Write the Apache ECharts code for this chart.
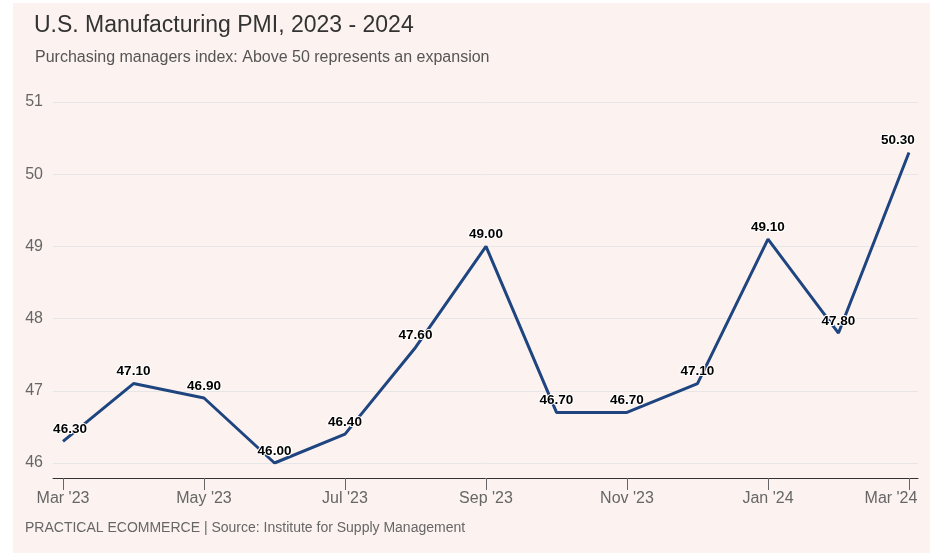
<!DOCTYPE html>
<html>
<head>
<meta charset="utf-8">
<script src="https://cdn.jsdelivr.net/npm/echarts@6/dist/echarts.min.js"></script>
<style>
html,body{margin:0;padding:0;background:#ffffff;}
#chart{width:941px;height:558px;}
</style>
</head>
<body>
<div id="chart"></div>
<script>
const categories = ["Mar '23","Apr '23","May '23","Jun '23","Jul '23","Aug '23","Sep '23","Oct '23","Nov '23","Dec '23","Jan '24","Feb '24","Mar '24"];
const pmiValues = [46.3, 47.1, 46.9, 46.0, 46.4, 47.6, 49.0, 46.7, 46.7, 47.1, 49.1, 47.8, 50.3];
const tickIndices = [0, 2, 4, 6, 8, 10, 12];

const chart = echarts.init(document.getElementById('chart'), null, {renderer: 'canvas'});
const lastIdx = pmiValues.length - 1;
const seriesData = pmiValues.map((v, i) => [i, v]);

chart.setOption({
  backgroundColor: '#ffffff',
  animation: false,
  graphic: [{
    type: 'rect', z: -10, silent: true,
    shape: {x: 13, y: 3, width: 917, height: 550},
    style: {fill: '#fcf3f0'}
  }],
  title: [
    {text: 'U.S. Manufacturing PMI, 2023 - 2024', left: 29, top: 9,
     textStyle: {fontFamily: 'Liberation Sans, Arial', fontSize: 23, fontWeight: 'normal', color: '#333333'}},
    {text: 'Purchasing managers index: Above 50 represents an expansion', left: 30, top: 45,
     textStyle: {fontFamily: 'Liberation Sans, Arial', fontSize: 16, fontWeight: 'normal', color: '#555555'}},
    {text: 'PRACTICAL ECOMMERCE | Source: Institute for Supply Management', left: 20, top: 516,
     textStyle: {fontFamily: 'Liberation Sans, Arial', fontSize: 14, fontWeight: 'normal', color: '#666666'}}
  ],
  grid: {left: 53, right: 23, top: 102, bottom: 95, containLabel: false},
  xAxis: {
    type: 'value',
    min: -0.142, max: 12.128,
    offset: 15,
    splitLine: {show: false},
    axisLine: {show: true, lineStyle: {color: '#333333', width: 1}},
    axisTick: {show: true, customValues: tickIndices, length: 12, lineStyle: {color: '#666666'}},
    axisLabel: {
      customValues: tickIndices,
      formatter: v => {
        const idx = Math.round(v);
        return idx === lastIdx ? '{last|' + categories[idx] + '}' : categories[idx];
      },
      rich: {last: {fontFamily: 'Liberation Sans, Arial', fontSize: 16, color: '#666666', padding: [0, 36, 0, 0]}},
      fontFamily: 'Liberation Sans, Arial', fontSize: 16, color: '#666666', margin: 13
    }
  },
  yAxis: {
    type: 'value',
    min: 46, max: 51, interval: 1,
    axisLine: {show: false},
    axisTick: {show: false},
    splitLine: {show: true, lineStyle: {color: '#e6e6e6', width: 1}},
    axisLabel: {fontFamily: 'Liberation Sans, Arial', fontSize: 16, color: '#666666', margin: 10,
      formatter: v => String(v)}
  },
  series: [{
    type: 'line',
    data: seriesData,
    showSymbol: true,
    symbol: 'circle',
    symbolSize: 0,
    itemStyle: {color: '#1f4580'},
    lineStyle: {color: '#1f4580', width: 3},
    label: {
      show: true, position: 'top', distance: 5,
      formatter: p => p.value[1].toFixed(2),
      fontFamily: 'Liberation Sans, Arial', fontSize: 13.5, fontWeight: 'bold',
      color: '#000000', textBorderColor: '#ffffff', textBorderWidth: 2
    },
    labelLayout: p => {
      if (p.dataIndex === 0) return {dx: 7, hideOverlap: false};
      if (p.dataIndex === lastIdx) return {dx: -11, hideOverlap: false};
      return {hideOverlap: false};
    },
    emphasis: {disabled: true}
  }]
});
</script>
</body>
</html>
